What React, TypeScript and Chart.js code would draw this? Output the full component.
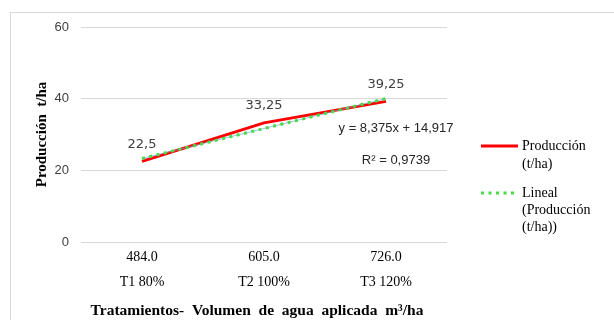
import React, { useEffect, useRef } from "react";
import { Chart, registerables } from "chart.js";
Chart.register(...registerables);

const volumes = ["484.0", "605.0", "726.0"];
const treatments = ["T1 80%", "T2 100%", "T3 120%"];
const produccion = [22.5, 33.25, 39.25];
const trend = [23.29, 31.67, 40.04];
const dataLabels = ["22,5", "33,25", "39,25"];
const yMin = 0;
const yMax = 60;
const yStep = 20;
const equation = "y = 8,375x + 14,917";
const r2Text = "R² = 0,9739";
const yTitle = "Producción  t/ha";
const xTitle = "Tratamientos-  Volumen  de  agua  aplicada  m³/ha";
const legendProd = ["Producción", "(t/ha)"];
const legendTrend = ["Lineal", "(Producción", "(t/ha))"];

const RED = "#ff0000";
const GREEN = "#45dc45";
const GRID = "#d9d9d9";
const TEXT = "#404040";

const decorPlugin = {
  id: "decor",
  afterDraw(chart: any) {
    const ctx = chart.ctx;
    const xs = chart.scales.x;
    const ys = chart.scales.y;
    const area = chart.chartArea;
    ctx.save();
    // outer border
    ctx.strokeStyle = GRID;
    ctx.lineWidth = 1;
    ctx.strokeRect(10.5, 12.5, 800, 600);

    // data labels
    ctx.fillStyle = TEXT;
    ctx.font = "13px 'DejaVu Sans'";
    ctx.textAlign = "center";
    ctx.textBaseline = "middle";
    produccion.forEach((v, i) => {
      ctx.fillText(dataLabels[i], xs.getPixelForValue(i), ys.getPixelForValue(v) - 17);
    });

    // equation & R2
    ctx.font = "13px 'Liberation Sans'";
    ctx.fillStyle = "#262626";
    const ex = xs.getPixelForValue(2) + 10;
    ctx.fillText(equation, ex, ys.getPixelForValue(31.8));
    ctx.fillText(r2Text, ex, ys.getPixelForValue(22.9));

    // y title
    ctx.save();
    ctx.font = "bold 15px 'Liberation Serif'";
    ctx.fillStyle = "#000";
    ctx.translate(42, (area.top + area.bottom) / 2);
    ctx.rotate(-Math.PI / 2);
    ctx.fillText(yTitle, 0, 0);
    ctx.restore();

    // x title
    ctx.font = "bold 15.5px 'Liberation Serif'";
    ctx.fillStyle = "#000";
    ctx.fillText(xTitle, 257, 311);

    // legend
    const lx0 = area.right + 34;
    const lx1 = lx0 + 37;
    ctx.textAlign = "left";
    ctx.font = "14px 'Liberation Serif'";
    ctx.fillStyle = "#000";
    ctx.strokeStyle = RED;
    ctx.lineWidth = 3;
    ctx.beginPath();
    ctx.moveTo(lx0, 146);
    ctx.lineTo(lx1, 146);
    ctx.stroke();
    legendProd.forEach((t, i) => ctx.fillText(t, lx1 + 4, 146 + i * 18));

    ctx.strokeStyle = GREEN;
    ctx.setLineDash([3, 4.5]);
    ctx.beginPath();
    ctx.moveTo(lx0, 193);
    ctx.lineTo(lx1, 193);
    ctx.stroke();
    ctx.setLineDash([]);
    legendTrend.forEach((t, i) => ctx.fillText(t, lx1 + 4, 193 + i * 17));
    ctx.restore();
  },
};

export default function App() {
  const ref = useRef<HTMLCanvasElement | null>(null);
  useEffect(() => {
    if (!ref.current) return;
    const chart = new Chart(ref.current, {
      type: "line",
      data: {
        labels: volumes.map((v, i) => [v, treatments[i]]),
        datasets: [
          {
            label: "Producción (t/ha)",
            data: produccion,
            borderColor: RED,
            borderWidth: 3,
            borderCapStyle: "butt",
            pointRadius: 0,
            tension: 0,
            order: 2,
          },
          {
            label: "Lineal (Producción (t/ha))",
            data: trend,
            borderColor: "rgba(120,160,220,0.7)",
            borderWidth: 1,
            pointRadius: 0,
            tension: 0,
            order: 1,
          },
          {
            label: "Lineal dots",
            data: trend,
            borderColor: GREEN,
            borderWidth: 3,
            borderDash: [3, 4.5],
            pointRadius: 0,
            tension: 0,
            order: 0,
          },
        ],
      },
      options: {
        animation: false,
        responsive: true,
        maintainAspectRatio: false,
        layout: { padding: { left: 0, top: 27, right: 167, bottom: 0 } },
        plugins: { legend: { display: false }, tooltip: { enabled: false } },
        scales: {
          x: {
            offset: true,
            grid: { display: false, drawTicks: false, offset: true },
            border: { display: false },
            ticks: {
              color: "#000",
              font: { family: "'Liberation Serif'", size: 14, lineHeight: 25 / 14 },
              padding: 3,
              maxRotation: 0,
            },
            afterFit(s: any) {
              s.height = 78;
            },
          },
          y: {
            min: yMin,
            max: yMax,
            grid: { color: GRID, drawTicks: false },
            border: { display: false },
            ticks: {
              stepSize: yStep,
              color: TEXT,
              font: { family: "'Liberation Sans'", size: 13 },
              padding: 12,
            },
            afterFit(s: any) {
              s.width = 81;
            },
          },
        },
      },
      plugins: [decorPlugin],
    } as any);
    return () => chart.destroy();
  }, []);
  return (
    <div style={{ position: "fixed", left: 0, top: 0, width: 614, height: 320, background: "#fff" }}>
      <canvas ref={ref} />
    </div>
  );
}
